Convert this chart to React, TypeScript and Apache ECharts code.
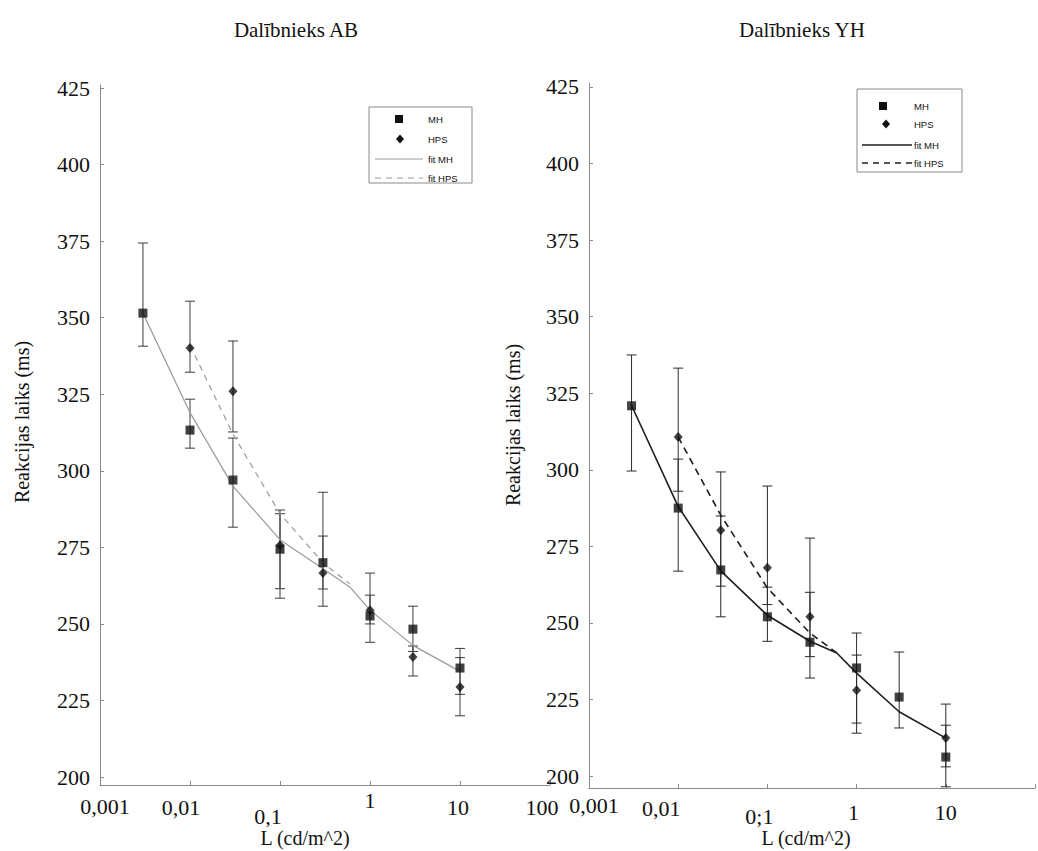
import React, { useEffect, useRef } from "react";
import * as echarts from "echarts";

// ---- data ----
const yTicks = [200, 225, 250, 275, 300, 325, 350, 375, 400, 425];
const xTickLabelsAB = ["0,001", "0,01", "0,1", "1", "10", "100"];
const xTickLabelsYH = ["0,001", "0,01", "0;1", "1", "10", ""];

const levelsMH = [0.003, 0.01, 0.03, 0.1, 0.3, 1, 3, 10];
const fitXMH = [0.003, 0.01, 0.03, 0.1, 0.3, 0.6, 1, 3, 10];
const fitXHPS = [0.01, 0.03, 0.1, 0.3, 0.6];

// Participant AB
const abMH = [351.5, 313.3, 297, 274.4, 270, 252.6, 248.3, 235.6];
const abMHLow = [340.7, 307.4, 281.6, 258.4, 261.4, 244, 241, 227];
const abMHHigh = [374.4, 323.4, 310.7, 287.2, 293, 266.6, 255.8, 242];
const abHPSX = [0.01, 0.03, 0.1, 0.3, 1, 3, 10];
const abHPS = [340.1, 326, 275.7, 266.6, 254.5, 239.2, 229.4];
const abHPSLow = [332.2, 312.7, 261.5, 255.8, 250, 233, 220];
const abHPSHigh = [355.4, 342.4, 286, 278.7, 259.4, 242.8, 239];
const abFitMH = [351.5, 319, 295, 277.5, 268, 262, 254.5, 243, 234.5];
const abFitHPS = [341, 312, 286, 270, 263];

// Participant YH
const yhMH = [320.9, 287.5, 267.3, 252, 243.7, 235.3, 225.8, 206.2];
const yhMHLow = [299.6, 266.9, 252, 244, 232, 217.3, 215.7, 196.5];
const yhMHHigh = [337.5, 303.5, 284.9, 261.7, 260, 246.7, 240.5, 216.6];
const yhHPSX = [0.01, 0.03, 0.1, 0.3, 1, 10];
const yhHPS = [310.7, 280.3, 268, 252, 228, 212.4];
const yhHPSLow = [293, 262, 256, 239, 214, 203];
const yhHPSHigh = [333.2, 299.3, 294.7, 277.7, 239.5, 223.5];
const yhFitMH = [321, 288, 267, 252.5, 244, 240.2, 233.6, 221, 212.4];
const yhFitHPS = [310.7, 285.2, 261.4, 246.7, 240.2];

const SERIF = "Liberation Serif, serif";
const SANS = "Liberation Sans, Arial, sans-serif";

const zip2 = (a: number[], b: number[]) => a.map((v, i) => [v, b[i]]);
const zip3 = (a: number[], b: number[], c: number[]) => a.map((v, i) => [v, b[i], c[i]]);

const errRender = (color: string, w: number) => (params: any, api: any) => {
  const x = api.value(0);
  const lo = api.coord([x, api.value(1)]);
  const hi = api.coord([x, api.value(2)]);
  const h = 5;
  const st = { stroke: color, lineWidth: w };
  return {
    type: "group",
    children: [
      { type: "line", shape: { x1: lo[0], y1: lo[1], x2: hi[0], y2: hi[1] }, style: st },
      { type: "line", shape: { x1: hi[0] - h, y1: hi[1], x2: hi[0] + h, y2: hi[1] }, style: st },
      { type: "line", shape: { x1: lo[0] - h, y1: lo[1], x2: lo[0] + h, y2: lo[1] }, style: st },
    ],
  };
};

// pads: extra top offset per label; shifts: horizontal centre shift per label
function mkX(grid: number, labels: string[], pads: number[], shifts: number[]) {
  const rich: any = {};
  labels.forEach((_, i) => {
    const s = shifts[i];
    rich["t" + i] = {
      padding: [pads[i], s < 0 ? -2 * s : 0, 0, s > 0 ? 2 * s : 0],
      fontFamily: SERIF,
      fontSize: 22,
      color: "#111",
    };
  });
  return {
    type: "log",
    logBase: 10,
    gridIndex: grid,
    min: 0.001,
    max: 100,
    splitNumber: 5,
    axisLine: { show: true, lineStyle: { color: "#8a8a8a", width: 1 } },
    axisTick: { show: true, inside: true, length: 4, lineStyle: { color: "#8a8a8a" } },
    splitLine: { show: false },
    axisLabel: {
      margin: 4,
      hideOverlap: false,
      showMinLabel: true,
      showMaxLabel: true,
      color: "#111",
      fontFamily: SERIF,
      fontSize: 22,
      formatter: (v: number) => {
        const i = Math.round(Math.log10(v)) + 3;
        const t = labels[i];
        if (!t) return "";
        return "{t" + i + "|" + t + "}";
      },
      rich,
    },
  };
}

function mkY(grid: number, min: number, max: number) {
  return {
    type: "value",
    gridIndex: grid,
    min,
    max,
    axisLine: { show: true, lineStyle: { color: "#8a8a8a", width: 1 } },
    axisTick: { show: true, inside: true, length: 4, customValues: yTicks, lineStyle: { color: "#8a8a8a" } },
    splitLine: { show: false },
    axisLabel: {
      customValues: yTicks,
      margin: 10,
      color: "#111",
      fontFamily: SERIF,
      fontSize: 22,
    },
  };
}

function legendBox(x: number, y: number, w: number, h: number, sq: number[], dm: number[], lx1: number, lx2: number, ly1: number, ly2: number, tx: number, lineColor: string, lw: number) {
  const ty = [sq[1], dm[1], ly1, ly2];
  const names = ["MH", "HPS", "fit MH", "fit HPS"];
  return [
    { type: "rect", shape: { x, y, width: w, height: h }, style: { fill: "#fff", stroke: "#8a8a8a", lineWidth: 1 }, z: 10 },
    { type: "rect", shape: { x: sq[0] - 4, y: sq[1] - 4, width: 8, height: 8 }, style: { fill: "#111" }, z: 11 },
    { type: "polygon", shape: { points: [[dm[0], dm[1] - 4.5], [dm[0] + 4, dm[1]], [dm[0], dm[1] + 4.5], [dm[0] - 4, dm[1]]] }, style: { fill: "#111" }, z: 11 },
    { type: "line", shape: { x1: lx1, y1: ly1, x2: lx2, y2: ly1 }, style: { stroke: lineColor, lineWidth: lw }, z: 11 },
    { type: "line", shape: { x1: lx1, y1: ly2, x2: lx2, y2: ly2 }, style: { stroke: lineColor, lineWidth: lw, lineDash: [6, 5] }, z: 11 },
    ...names.map((n, i) => ({
      type: "text",
      x: tx,
      y: ty[i],
      style: { text: n, fill: "#111", fontFamily: SANS, fontSize: 9.5, verticalAlign: "middle", align: "left" },
      z: 11,
    })),
  ];
}

const txt = (text: string, x: number, y: number, size: number, rot = 0) => ({
  type: "text",
  x,
  y,
  rotation: rot,
  style: { text, fill: "#111", fontFamily: SERIF, fontSize: size, align: "center", verticalAlign: "middle" },
});

export default function App() {
  const ref = useRef<HTMLDivElement>(null);
  useEffect(() => {
    if (!ref.current) return;
    const chart = echarts.init(ref.current, null, { renderer: "svg" });
    const leftLine = "#9a9a9a";
    const rightLine = "#1e1e1e";
    const option: any = {
      animation: false,
      backgroundColor: "#fff",
      grid: [
        { left: 100, top: 85, width: 450, height: 700 },
        { left: 589, top: 83, width: 460, height: 705 },
      ],
      xAxis: [
        mkX(0, xTickLabelsAB, [6, 7, 16, 0, 7, 7], [5, -9, -12, 0, -2, -8]),
        mkX(1, xTickLabelsYH, [2, 5, 13, 9, 9, 9], [5, -17, -8, -3, 0, 0]),
      ],
      yAxis: [mkY(0, 197.4, 426), mkY(1, 196.1, 426.3)],
      series: [
        // AB
        { type: "custom", name: "errAB_MH", xAxisIndex: 0, yAxisIndex: 0, z: 1, silent: true, data: zip3(levelsMH, abMHLow, abMHHigh), renderItem: errRender("#3c3c3c", 1), encode: { x: 0, y: [1, 2] } },
        { type: "custom", name: "errAB_HPS", xAxisIndex: 0, yAxisIndex: 0, z: 1, silent: true, data: zip3(abHPSX, abHPSLow, abHPSHigh), renderItem: errRender("#3c3c3c", 1), encode: { x: 0, y: [1, 2] } },
        { type: "line", name: "fit MH", xAxisIndex: 0, yAxisIndex: 0, z: 2, symbol: "none", data: zip2(fitXMH, abFitMH), lineStyle: { color: leftLine, width: 1.2 } },
        { type: "line", name: "fit HPS", xAxisIndex: 0, yAxisIndex: 0, z: 2, symbol: "none", data: zip2(fitXHPS, abFitHPS), lineStyle: { color: leftLine, width: 1.2, type: [6, 5] } },
        { type: "scatter", name: "MH", xAxisIndex: 0, yAxisIndex: 0, z: 3, symbol: "rect", symbolSize: 9, data: zip2(levelsMH, abMH), itemStyle: { color: "#111" } },
        { type: "scatter", name: "HPS", xAxisIndex: 0, yAxisIndex: 0, z: 3, symbol: "diamond", symbolSize: [9, 10], data: zip2(abHPSX, abHPS), itemStyle: { color: "#111" } },
        // YH
        { type: "custom", name: "errYH_MH", xAxisIndex: 1, yAxisIndex: 1, z: 1, silent: true, data: zip3(levelsMH, yhMHLow, yhMHHigh), renderItem: errRender("#2a2a2a", 1), encode: { x: 0, y: [1, 2] } },
        { type: "custom", name: "errYH_HPS", xAxisIndex: 1, yAxisIndex: 1, z: 1, silent: true, data: zip3(yhHPSX, yhHPSLow, yhHPSHigh), renderItem: errRender("#2a2a2a", 1), encode: { x: 0, y: [1, 2] } },
        { type: "line", name: "fit MH", xAxisIndex: 1, yAxisIndex: 1, z: 2, symbol: "none", data: zip2(fitXMH, yhFitMH), lineStyle: { color: rightLine, width: 1.6 } },
        { type: "line", name: "fit HPS", xAxisIndex: 1, yAxisIndex: 1, z: 2, symbol: "none", data: zip2(fitXHPS, yhFitHPS), lineStyle: { color: rightLine, width: 1.6, type: [7, 5] } },
        { type: "scatter", name: "MH", xAxisIndex: 1, yAxisIndex: 1, z: 3, symbol: "rect", symbolSize: 9, data: zip2(levelsMH, yhMH), itemStyle: { color: "#111" } },
        { type: "scatter", name: "HPS", xAxisIndex: 1, yAxisIndex: 1, z: 3, symbol: "diamond", symbolSize: [9, 10], data: zip2(yhHPSX, yhHPS), itemStyle: { color: "#111" } },
      ],
      graphic: [
        txt("Dalībnieks AB", 296, 30, 21),
        txt("Dalībnieks YH", 802, 30, 21),
        txt("Reakcijas laiks (ms)", 22, 422, 20, Math.PI / 2),
        txt("Reakcijas laiks (ms)", 513, 425, 20, Math.PI / 2),
        txt("L (cd/m^2)", 305, 838, 20),
        txt("L (cd/m^2)", 806, 838, 20),
        ...legendBox(369, 107, 103, 76, [399, 119], [400, 139], 375, 423, 159, 178, 428, leftLine, 1),
        ...legendBox(857, 89, 105, 83, [883, 106], [886, 124], 862, 912, 145, 163, 914, rightLine, 1.4),
      ],
    };
    chart.setOption(option);
    return () => chart.dispose();
  }, []);
  return (
    <div
      ref={ref}
      style={{ position: "fixed", left: 0, top: 0, width: 1038, height: 851, background: "#fff" }}
    />
  );
}
